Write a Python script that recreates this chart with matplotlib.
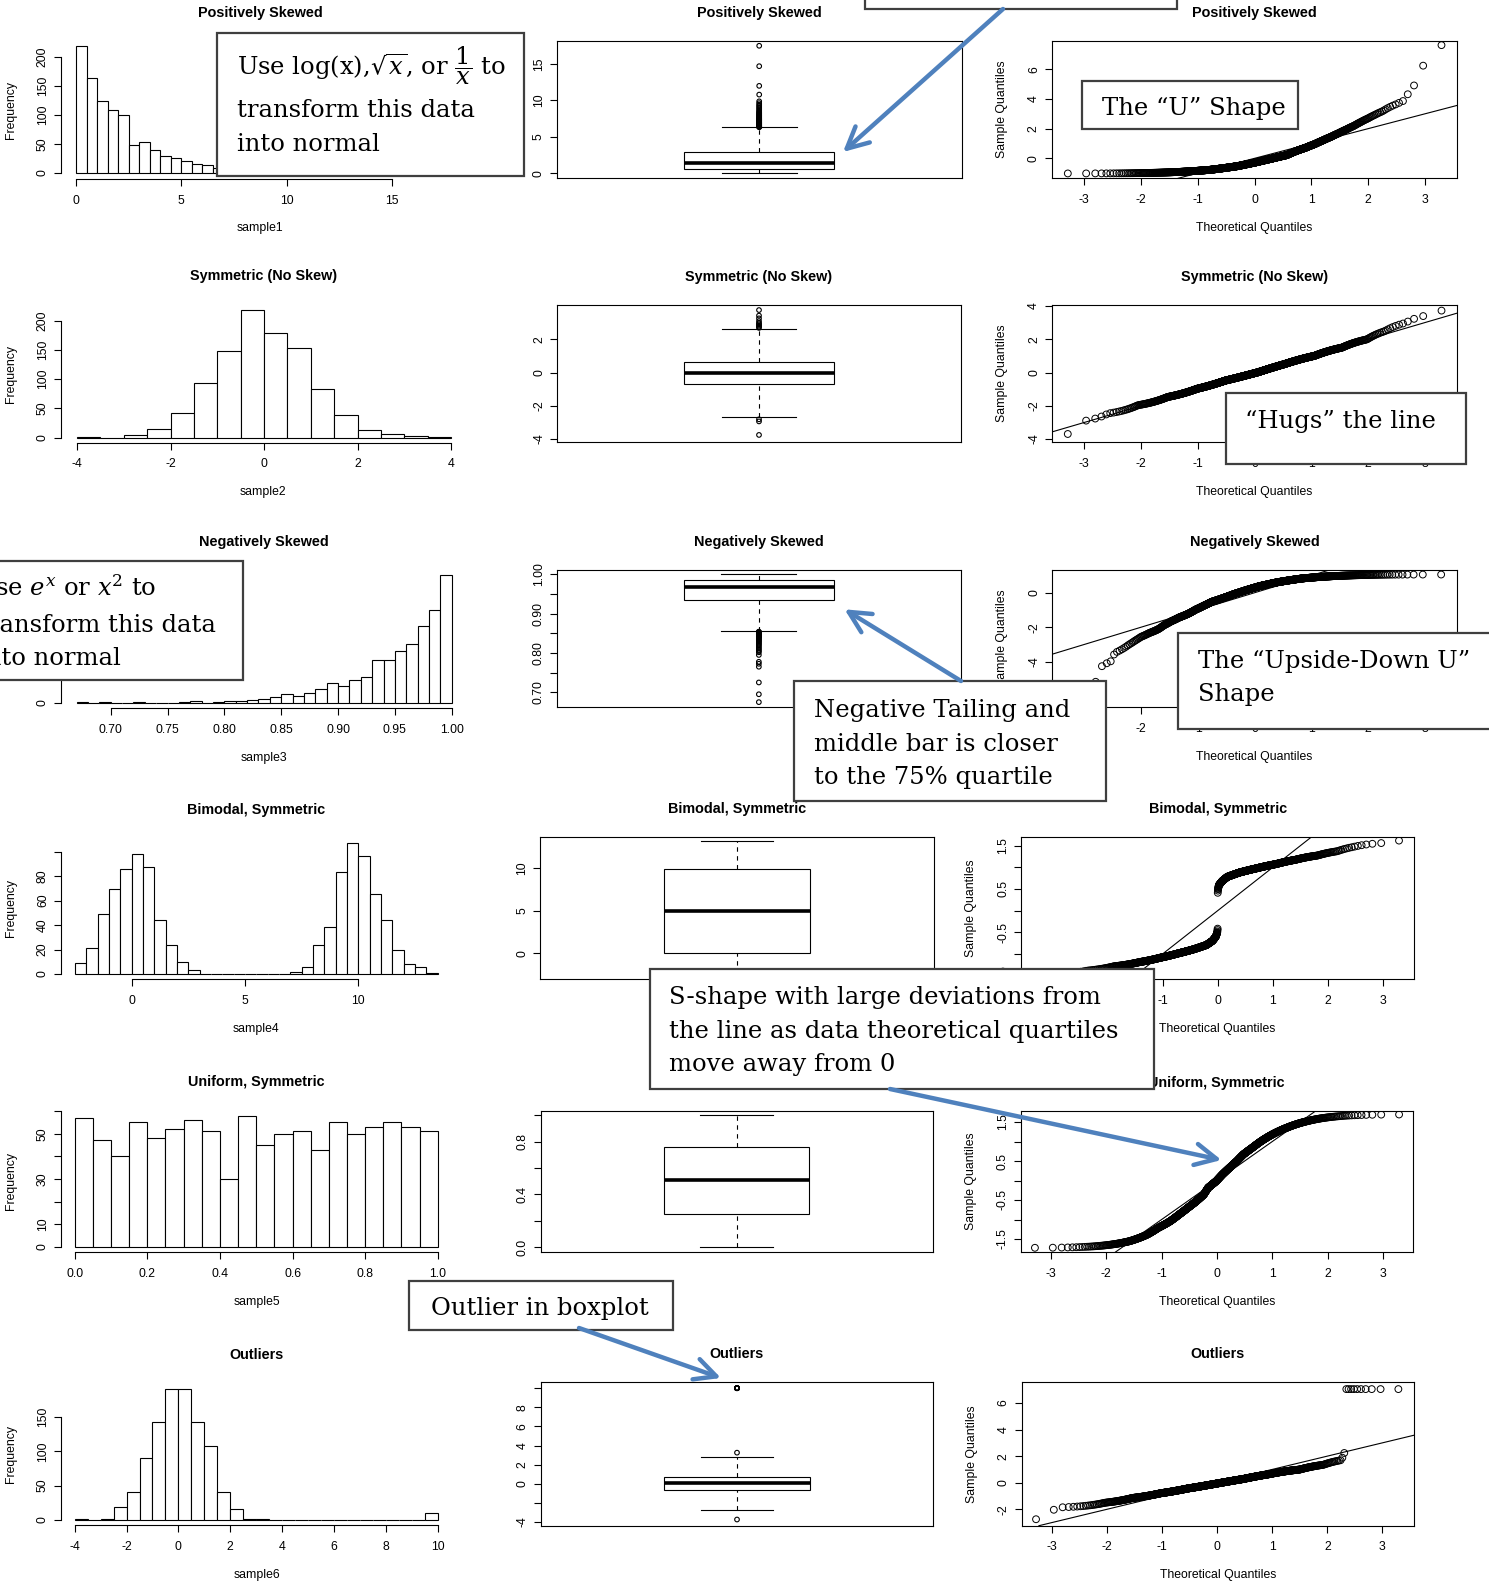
import numpy as np
import matplotlib
matplotlib.use('Agg')
import matplotlib.pyplot as plt
from matplotlib.patches import Rectangle
from statistics import NormalDist

plt.rcParams['font.family'] = ['Liberation Sans', 'DejaVu Sans']
plt.rcParams['axes.unicode_minus'] = False
plt.rcParams['mathtext.fontset'] = 'dejavuserif'

W, H = 1489, 1583

# ---- data: histogram counts, one list per sample ----
titles = ['Positively Skewed', 'Symmetric (No Skew)', 'Negatively Skewed',
          'Bimodal, Symmetric', 'Uniform, Symmetric', 'Outliers']
xnames = ['sample1', 'sample2', 'sample3', 'sample4', 'sample5', 'sample6']

bin_start = [0.0, -4.0, 0.67, -2.5, 0.0, -4.0]
bin_end = [17.5, 4.0, 1.00, 13.5, 1.0, 10.0]
bin_width = [0.5, 0.5, 0.01, 0.5, 0.05, 0.5]

counts1 = [218, 164, 123, 109, 99, 48, 53, 40, 30, 26, 20, 16, 13, 9, 8, 6, 5, 3, 3, 2]
extra1 = [10.8, 12.0, 14.7, 17.5]
counts2 = [1, 0, 4, 15, 43, 93, 148, 219, 179, 153, 84, 38, 13, 7, 3, 1]
extra2 = []
counts3 = [1, 0, 1, 0, 0, 1, 0, 0, 0, 1, 2, 0, 1, 3, 3, 4, 5, 9, 13, 10, 15, 21,
           30, 26, 35, 39, 65, 66, 80, 90, 118, 143, 196]
extra3 = []
counts4 = [9, 21, 49, 69, 86, 98, 87, 44, 24, 10, 3, 0, 0, 0, 0, 0, 0, 0, 0,
           2, 6, 24, 38, 83, 107, 96, 65, 44, 20, 8, 6, 1]
extra4 = []
counts5 = [57, 47, 40, 55, 48, 52, 56, 51, 30, 58, 45, 50, 51, 43, 55, 50, 53, 55, 53, 51]
extra5 = []
counts6 = [1, 0, 1, 19, 41, 91, 143, 192, 192, 143, 108, 40, 15, 1, 1]
extra6 = [10.0] * 10

all_counts = [counts1, counts2, counts3, counts4, counts5, counts6]
all_extra = [extra1, extra2, extra3, extra4, extra5, extra6]

hist_xticks = [[0, 5, 10, 15], [-4, -2, 0, 2, 4], list(np.arange(0.70, 1.001, 0.05)),
               [0, 5, 10], list(np.arange(0, 1.01, 0.2)), list(range(-4, 11, 2))]
hist_xdec = [0, 0, 2, 0, 1, 0]
hist_yticks = [[0, 50, 100, 150, 200], [0, 50, 100, 150, 200], [0, 50, 100, 150, 200],
               [0, 20, 40, 60, 80, 100], [0, 10, 20, 30, 40, 50, 60], [0, 50, 100, 150]]
hist_yshow = [None, None, None, [0, 20, 40, 60, 80], [0, 10, 30, 50], None]

box_yticks = [[0, 5, 10, 15], [-4, -2, 0, 2], list(np.arange(0.70, 1.001, 0.05)),
              [0, 5, 10], list(np.arange(0, 1.01, 0.2)), list(range(-4, 11, 2))]
box_ydec = [0, 0, 2, 0, 1, 0]
box_yshow = [None, None, [0.7, 0.8, 0.9, 1.0], None, [0.0, 0.4, 0.8], [-4, 0, 2, 4, 6, 8]]

qq_yticks = [[0, 2, 4, 6], [-4, -2, 0, 2, 4], [-6, -4, -2, 0],
             list(np.arange(-1.5, 1.51, 0.5)), list(np.arange(-1.5, 1.51, 0.5)), [-2, 0, 2, 4, 6]]
qq_ydec = [0, 0, 0, 1, 1, 0]
qq_yshow = [None, None, None, [-1.5, -0.5, 0.5, 1.5], [-1.5, -0.5, 0.5, 1.5], None]
qq_xticks = [-3, -2, -1, 0, 1, 2, 3]

# ---- layout in pixels of the reference ----
hist_geo = [
    (60.7, 179.0, (0, 76.0, 15, 392.0), (0, 173.0, 200, 56.7)),
    (60.7, 442.7, (-4, 77.0, 4, 451.0), (0, 437.7, 200, 320.7)),
    (60.7, 708.3, (0.70, 110.7, 1.00, 451.7), (0, 702.7, 100, 637.6)),
    (60.7, 979.3, (0, 131.7, 10, 358.3), (0, 974.0, 80, 876.0)),
    (60.7, 1252.3, (0, 74.7, 1, 437.7), (0, 1246.7, 50, 1133.7)),
    (60.7, 1525.3, (-4, 74.7, 10, 437.7), (0, 1519.7, 150, 1417.3)),
]
box_geo = [
    (556.7, 41.0, 961.7, 178.3, (0, 173.3, 15, 64.0)),
    (557.0, 305.0, 961.0, 442.0, (0, 372.5, 2, 339.2)),
    (556.7, 570.0, 961.0, 707.3, (0.7, 692.3, 1.0, 574.3)),
    (540.4, 837.3, 933.6, 979.3, (0, 953.3, 10, 868.3)),
    (540.6, 1110.7, 932.8, 1252.0, (0, 1247.0, 0.8, 1141.7)),
    (540.6, 1382.3, 933.4, 1525.7, (0, 1483.7, 8, 1407.3)),
]
qq_geo = [
    (1051.7, 41.0, 1456.7, 178.3, (-3, 1084.3, 3, 1425.0), (0, 158.3, 6, 69.3)),
    (1052.0, 305.0, 1457.0, 442.0, (-3, 1084.3, 3, 1425.0), (0, 372.5, 2, 339.2)),
    (1052.0, 570.0, 1457.0, 707.3, (-3, 1084.3, 3, 1425.0), (0, 592.7, -4, 661.7)),
    (1021.0, 837.3, 1414.3, 979.3, (0, 1217.7, 3, 1383.0), (1.5, 845.7, -0.5, 932.3)),
    (1020.7, 1110.7, 1412.8, 1252.0, (-3, 1051.0, 3, 1383.0), (0.5, 1161.0, -0.5, 1200.0)),
    (1021.5, 1382.3, 1414.3, 1525.7, (-3, 1052.0, 3, 1382.4), (0, 1482.7, 6, 1403.0)),
]

FS = 8.8
LW = 0.8
nd = NormalDist()


def val_at(cal, p):
    v1, p1, v2, p2 = cal
    return v1 + (p - p1) * (v2 - v1) / (p2 - p1)


def px_at(cal, v):
    v1, p1, v2, p2 = cal
    return p1 + (v - v1) * (p2 - p1) / (v2 - v1)


def build_sample(start, width, counts, extra):
    vals = []
    for k, c in enumerate(counts):
        lo = start + k * width
        vals += list(lo + (np.arange(c) + 0.5) * width / max(c, 1))
    return np.sort(np.array(vals + list(extra), dtype=float))


def fivenum(x):
    x = np.sort(x)
    n = len(x)
    n4 = np.floor((n + 3) / 2) / 2
    d = np.array([1, n4, (n + 1) / 2, n + 1 - n4, n]) - 1
    return 0.5 * (x[np.floor(d).astype(int)] + x[np.ceil(d).astype(int)])


def fmt(v, dec):
    s = f'{v:.{dec}f}'
    return '0' if s in ('-0', '0') else s


def ticks(ax, axis, vals, dec, show=None):
    labs = []
    for v in vals:
        ok = show is None or any(abs(v - s) < 1e-9 for s in show)
        labs.append(fmt(v, dec) if ok else '')
    if axis == 'x':
        ax.set_xticks(vals, labs)
    else:
        ax.set_yticks(vals, labs)
        for t in ax.get_yticklabels():
            t.set_rotation(90)
            t.set_va('center')


def add_axes(L, T, R, B):
    ax = fig.add_axes([L / W, 1 - B / H, (R - L) / W, (B - T) / H])
    ax.tick_params(length=5, width=LW, labelsize=FS)
    ax.tick_params(axis='x', pad=6.3)
    ax.tick_params(axis='y', pad=3.5)
    for sp in ax.spines.values():
        sp.set_linewidth(LW)
    ax.patch.set_alpha(0)
    return ax


def ftext(x, y, s, **kw):
    fig.text(x / W, 1 - y / H, s, ha='center', va='center', **kw)


def labels(L, T, R, B, title, xl, yl):
    cx = (L + R) / 2
    ftext(cx, T - 28, title, fontsize=10.4, fontweight='bold')
    if xl:
        ftext(cx, B + 49.5, xl, fontsize=FS)
    ftext(L - 50, (T + B) / 2, yl, fontsize=FS, rotation=90)


fig = plt.figure(figsize=(W / 100, H / 100), dpi=100)

for i in range(6):
    x = build_sample(bin_start[i], bin_width[i], all_counts[i], all_extra[i])
    edges = np.round(np.arange(bin_start[i], bin_end[i] + bin_width[i] / 2, bin_width[i]), 6)

    # histogram
    L, B, xcal, ycal = hist_geo[i]
    hc, _ = np.histogram(x, bins=edges)
    xlim = (val_at(xcal, L), edges[-1] + 0.04 * (edges[-1] - edges[0]))
    ylim = (val_at(ycal, B), 1.04 * hc.max())
    R, T = px_at(xcal, xlim[1]), px_at(ycal, ylim[1])
    ax = add_axes(L, T, R, B)
    ax.hist(x, bins=edges, color='white', edgecolor='black', linewidth=LW)
    ax.set_xlim(xlim)
    ax.set_ylim(ylim)
    ax.spines['top'].set_visible(False)
    ax.spines['right'].set_visible(False)
    ticks(ax, 'x', hist_xticks[i], hist_xdec[i])
    ticks(ax, 'y', hist_yticks[i], 0, hist_yshow[i])
    ax.spines['bottom'].set_bounds(hist_xticks[i][0], hist_xticks[i][-1])
    ax.spines['left'].set_bounds(hist_yticks[i][0], hist_yticks[i][-1])
    labels(L, T, R, B, titles[i], xnames[i], 'Frequency')

    # boxplot
    L, T, R, B, ycal = box_geo[i]
    ax = add_axes(L, T, R, B)
    ax.set_xlim(0.46, 1.54)
    ax.set_ylim(val_at(ycal, B), val_at(ycal, T))
    s = fivenum(x)
    iqr = s[3] - s[1]
    inside = x[(x >= s[1] - 1.5 * iqr) & (x <= s[3] + 1.5 * iqr)]
    out = x[(x < s[1] - 1.5 * iqr) | (x > s[3] + 1.5 * iqr)]
    lo, hi = inside.min(), inside.max()
    ax.add_patch(Rectangle((0.8, s[1]), 0.4, iqr, facecolor='white', edgecolor='black', lw=LW))
    ax.plot([0.8, 1.2], [s[2], s[2]], color='black', lw=2.6, solid_capstyle='butt')
    ax.plot([1, 1], [s[3], hi], color='black', lw=LW, ls=(0, (4, 4)))
    ax.plot([1, 1], [lo, s[1]], color='black', lw=LW, ls=(0, (4, 4)))
    ax.plot([0.9, 1.1], [hi, hi], color='black', lw=LW)
    ax.plot([0.9, 1.1], [lo, lo], color='black', lw=LW)
    ax.scatter(np.ones(len(out)), out, s=11, facecolors='none', edgecolors='black', linewidths=0.8)
    ax.set_xticks([])
    ticks(ax, 'y', box_yticks[i], box_ydec[i], box_yshow[i])
    ftext((L + R) / 2, T - 28, titles[i], fontsize=10.4, fontweight='bold')

    # normal QQ plot of the scaled sample, with the y = x reference line
    L, T, R, B, xcal, ycal = qq_geo[i]
    ax = add_axes(L, T, R, B)
    z = (x - x.mean()) / x.std(ddof=1)
    n = len(z)
    q = np.array([nd.inv_cdf(p) for p in (np.arange(1, n + 1) - 0.5) / n])
    ax.scatter(q, np.sort(z), s=24, facecolors='none', edgecolors='black', linewidths=0.7)
    ax.axline((0, 0), slope=1, color='black', lw=LW)
    ax.set_xlim(val_at(xcal, L), val_at(xcal, R))
    ax.set_ylim(val_at(ycal, B), val_at(ycal, T))
    ticks(ax, 'x', qq_xticks, 0)
    ticks(ax, 'y', qq_yticks[i], qq_ydec[i], qq_yshow[i])
    labels(L, T, R, B, titles[i], 'Theoretical Quantiles', 'Sample Quantiles')

# ---- call-out boxes and arrows drawn over everything, in pixel coordinates ----
ov = fig.add_axes([0, 0, 1, 1], zorder=10)
ov.set_xlim(0, W)
ov.set_ylim(H, 0)
ov.axis('off')
ov.patch.set_alpha(0)

callouts = [
    ((217, 32.5, 524, 176), [(237, 66, r'Use log(x),$\sqrt{x}$, or $\dfrac{1}{x}$ to'),
                             (237, 110, 'transform this data'), (237, 144.5, 'into normal')]),
    ((865, -10, 1177, 8.5), []),
    ((1081.7, 80.7, 1298.3, 129), [(1102, 108, 'The \u201cU\u201d Shape')]),
    ((1225.5, 392.7, 1465.8, 464.4), [(1245, 421, '\u201cHugs\u201d the line')]),
    ((-40, 560.7, 242.7, 680), [(-25, 588.5, r'Use $e^x$ or $x^2$ to'),
                                (-22, 625, 'transform this data'), (-22, 658, 'into normal')]),
    ((793.7, 681, 1106, 800.7), [(814, 710, 'Negative Tailing and'),
                                 (814, 744, 'middle bar is closer'), (814, 777.5, 'to the 75% quartile')]),
    ((1178.3, 632.7, 1500, 729), [(1198, 661, 'The \u201cUpside-Down U\u201d'), (1198, 694.5, 'Shape')]),
    ((650, 969, 1154, 1089), [(669, 997.5, 'S-shape with large deviations from'),
                              (669, 1031.7, 'the line as data theoretical quartiles'),
                              (669, 1065, 'move away from 0')]),
    ((409, 1280.5, 673, 1329.5), [(431, 1309, 'Outlier in boxplot')]),
]
for (x0, y0, x1, y1), lines in callouts:
    rect = Rectangle((x0, y0), x1 - x0, y1 - y0, facecolor='white', edgecolor='#3f3f3f', lw=1.6)
    ov.add_patch(rect)
    for tx, ty, s in lines:
        t = ov.text(tx, ty, s, fontsize=17.5, family='DejaVu Serif', ha='left', va='center')
        t.set_clip_path(rect)

arrows = [((1003, 9), (843, 152)), ((961, 681), (844.5, 609.3)),
          ((890, 1089), (1221.5, 1160)), ((579, 1328), (721, 1378))]
for tail, tip in arrows:
    ov.annotate('', xy=tip, xytext=tail,
                arrowprops=dict(arrowstyle='->,head_length=0.7,head_width=0.35', mutation_scale=22,
                                color='#4f81bd', lw=3.2, shrinkA=0, shrinkB=0))

fig.savefig('out.png', dpi=100)
